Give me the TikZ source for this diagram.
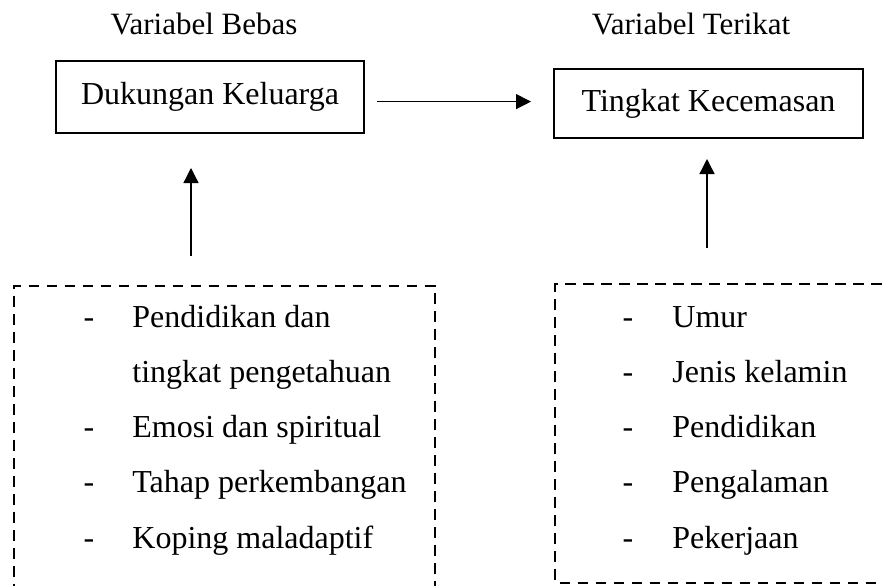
\documentclass[tikz,border=0pt]{standalone}
\usepackage{fontspec}
\setmainfont{Liberation Serif}
\usetikzlibrary{arrows.meta}
\tikzset{
  varbox/.style={draw, line width=1pt, minimum width=154pt, minimum height=36pt},
  arr/.style={-{Triangle[length=7.5pt,width=7.5pt]}, line width=0.65pt},
  dashbox/.style={line width=1pt, dash pattern=on 5.3pt off 3.7pt},
}
\begin{document}
\begin{tikzpicture}[x=5pt, y=5pt, every node/.style={inner sep=0pt, font=\fontsize{16}{19}\selectfont}]
    \useasboundingbox (0,0) rectangle (88.2,58.5);
    \node[anchor=base, font=\fontsize{15.5}{18}\selectfont] (bebas) at (20.4,55) {Variabel Bebas};
    \node[anchor=base, font=\fontsize{15.5}{18}\selectfont] (terikat) at (69.1,55) {Variabel Terikat};
    \node[varbox] (dk) at (21,48.8) {Dukungan Keluarga};
    \node[varbox, minimum width=154.5pt, minimum height=34.5pt] (tk) at (70.85,48.15) {Tingkat Kecemasan};

    \coordinate (hz) at ([yshift=-2.3pt]dk.east);
    \draw[arr, shorten <=6pt, shorten >=11pt] (hz) -- (hz -| tk.west);
    \coordinate (fb) at (19.1,32.9);
    \draw[arr, shorten >=17pt] (fb) -- (fb |- dk.south);
    \coordinate (ft) at (70.7,33.7);
    \draw[arr, shorten >=10pt] (ft) -- (ft |- tk.south);

    \draw[dashbox] (1.4,-1) -- (1.4,29.95) -- (43.5,29.95) -- (43.5,-1);
    \draw[dashbox] (90,30.1) -- (55.5,30.1) -- (55.5,0.25) -- (90,0.25);

    \foreach \y [count=\i] in {25.8,14.8,9.3,3.7}
        {\node[anchor=base] (ld\i) at (8.9,\y) {-};}
    \foreach \y/\t [count=\i] in {25.8/Pendidikan dan,20.3/tingkat pengetahuan,14.8/Emosi dan spiritual,9.3/Tahap perkembangan,3.7/Koping maladaptif}
        {\node[anchor=base west] (lt\i) at (13.2,\y) {\t};}
    \foreach \y [count=\i] in {25.8,20.3,14.8,9.3,3.7}
        {\node[anchor=base] (rd\i) at (62.8,\y) {-};}
    \foreach \y/\t [count=\i] in {25.8/Umur,20.3/Jenis kelamin,14.8/Pendidikan,9.3/Pengalaman,3.7/Pekerjaan}
        {\node[anchor=base west] (rt\i) at (67.2,\y) {\t};}
\end{tikzpicture}
\end{document}
